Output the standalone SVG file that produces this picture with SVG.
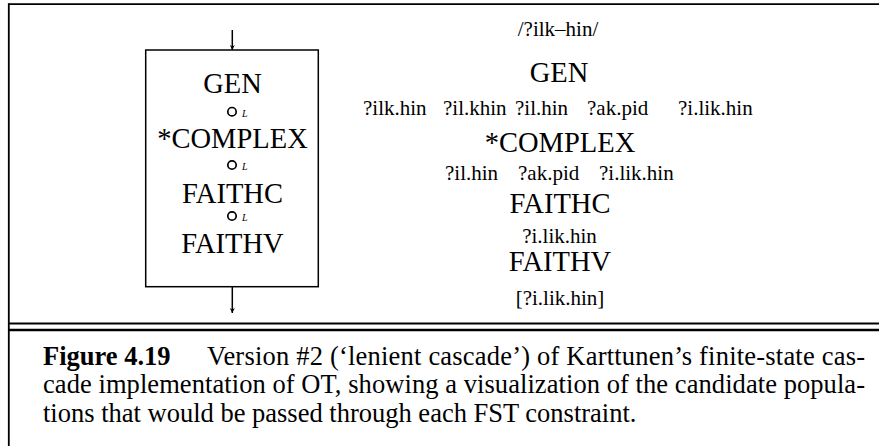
<svg xmlns="http://www.w3.org/2000/svg" width="879" height="446" viewBox="0 0 879 446" font-family="'Liberation Serif','Times New Roman',serif">
<style>
.serif{font-family:"Liberation Serif","Times New Roman",serif;fill:#000}
.big{font-size:28.5px;text-anchor:middle}
.cand{font-size:21px}
.mid{text-anchor:middle}
.cap{font-size:26.5px}
.ln{stroke:#000;fill:none}
.op{stroke:#000;fill:none;stroke-width:1.7}
.lab{font-size:10px;font-style:italic}
</style>
<defs>
<marker id="ah" viewBox="0 0 10 10" refX="10" refY="5" markerWidth="5" markerHeight="9" markerUnits="userSpaceOnUse" orient="auto">
<path d="M0,0 L10,5 L0,10 L3,5 Z" fill="#000"/>
</marker>
</defs>
<rect width="879" height="446" fill="#fff"/>
<g id="frame">
<line class="ln" x1="8.8" y1="4.2" x2="879" y2="4.2" stroke-width="1.8"/>
<line class="ln" x1="8.8" y1="3.3" x2="8.8" y2="446" stroke-width="1.8"/>
<line class="ln" x1="8.8" y1="323.5" x2="879" y2="323.5" stroke-width="2"/>
<line class="ln" x1="8.8" y1="330" x2="879" y2="330" stroke-width="2.4"/>
</g>
<g id="cascade-box">
<rect x="145.7" y="50" width="172.6" height="236.7" class="ln" stroke-width="1.5"/>
<text class="serif big" x="232.5" y="93.3">GEN</text>
<text class="serif big" x="232.5" y="147.7">*COMPLEX</text>
<text class="serif big" x="232.5" y="202.7">FAITHC</text>
<text class="serif big" x="232.5" y="253.3">FAITHV</text>
</g>
<g id="compose-ops">
<circle cx="232" cy="111.7" r="4.2" class="op"/>
<circle cx="232" cy="165" r="4.2" class="op"/>
<circle cx="232" cy="216" r="4.2" class="op"/>
<text class="serif lab" x="242" y="117">L</text>
<text class="serif lab" x="242" y="170.3">L</text>
<text class="serif lab" x="242" y="221.3">L</text>
</g>
<g id="connectors">
<line class="ln" x1="232.3" y1="30" x2="232.3" y2="50" stroke-width="1.5" marker-end="url(#ah)"/>
<line class="ln" x1="232.3" y1="287" x2="232.3" y2="313" stroke-width="1.5" marker-end="url(#ah)"/>
</g>
<g id="candidates">
<text class="serif cand mid" x="558" y="36">/?ilk–hin/</text>
<text class="serif big" x="559" y="81.7">GEN</text>
<text class="serif cand" y="115"><tspan x="363">?ilk.hin</tspan><tspan x="443">?il.khin</tspan><tspan x="515">?il.hin</tspan><tspan x="587">?ak.pid</tspan><tspan x="678">?i.lik.hin</tspan></text>
<text class="serif big" x="560" y="151.7">*COMPLEX</text>
<text class="serif cand" y="180"><tspan x="445">?il.hin</tspan><tspan x="518">?ak.pid</tspan><tspan x="599">?i.lik.hin</tspan></text>
<text class="serif big" x="560" y="212.7">FAITHC</text>
<text class="serif cand mid" x="559.5" y="242.7">?i.lik.hin</text>
<text class="serif big" x="560" y="270.7">FAITHV</text>
<text class="serif cand mid" x="560" y="305">[?i.lik.hin]</text>
</g>
<g id="caption">
<text class="serif cap" x="43" y="365" font-weight="bold">Figure 4.19</text>
<text class="serif cap" x="207" y="365" textLength="658" lengthAdjust="spacing">Version #2 (‘lenient cascade’) of Karttunen’s finite-state cas-</text>
<text class="serif cap" x="43" y="393.3" textLength="822" lengthAdjust="spacing">cade implementation of OT, showing a visualization of the candidate popula-</text>
<text class="serif cap" x="43" y="421.7">tions that would be passed through each FST constraint.</text>
</g>
</svg>
